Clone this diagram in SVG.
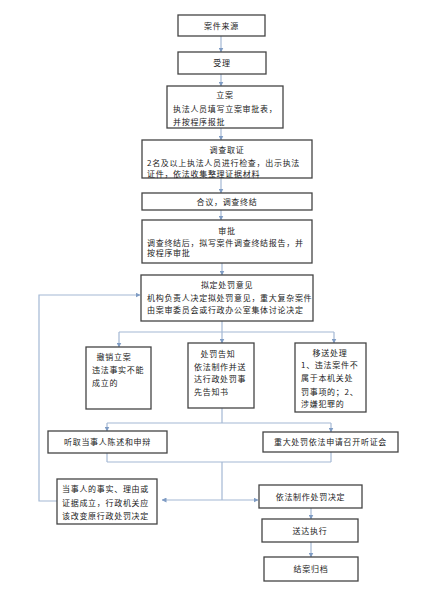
<svg xmlns="http://www.w3.org/2000/svg" width="447" height="600" viewBox="0 0 447 600">
<defs>
<marker id="ah" markerWidth="5" markerHeight="5" refX="4.5" refY="2.5" orient="auto" markerUnits="userSpaceOnUse">
<path d="M0,0 L5,2.5 L0,5 Z" fill="#7f9cc4"/>
</marker>
<style>
.box{fill:#fff;stroke:#444;stroke-width:1.3}
.ln{fill:none;stroke:#a3b8d4;stroke-width:1.2}
.ar{fill:none;stroke:#a3b8d4;stroke-width:1.2;marker-end:url(#ah)}
text{font-family:"Noto Sans CJK SC","Noto Sans",sans-serif;font-size:8px;fill:#222;letter-spacing:0.7px}
.c{text-anchor:middle}
</style>
</defs>
<rect width="447" height="600" fill="#fff"/>
<g id="connectors">
<line class="ar" x1="221" y1="36" x2="221" y2="52"/>
<line class="ar" x1="221" y1="74" x2="221" y2="86"/>
<line class="ar" x1="221" y1="128" x2="221" y2="140"/>
<line class="ar" x1="221" y1="178" x2="221" y2="193"/>
<line class="ar" x1="221" y1="210" x2="221" y2="220"/>
<line class="ar" x1="222" y1="263" x2="222" y2="275"/>
<line class="ln" x1="222" y1="321" x2="222" y2="332"/>
<line class="ln" x1="119" y1="332" x2="334" y2="332"/>
<line class="ar" x1="119" y1="332" x2="119" y2="347"/>
<line class="ar" x1="222" y1="332" x2="222" y2="343"/>
<line class="ar" x1="334" y1="332" x2="334" y2="343"/>
<line class="ln" x1="222" y1="408" x2="222" y2="423"/>
<line class="ln" x1="107" y1="423" x2="331" y2="423"/>
<line class="ar" x1="107" y1="423" x2="107" y2="431"/>
<line class="ar" x1="331" y1="423" x2="331" y2="432"/>
<line class="ln" x1="107" y1="453" x2="107" y2="462"/>
<line class="ln" x1="331" y1="452" x2="331" y2="462"/>
<line class="ln" x1="107" y1="462" x2="331" y2="462"/>
<line class="ln" x1="222" y1="462" x2="222" y2="500"/>
<line class="ar" x1="222" y1="500" x2="162" y2="500"/>
<line class="ar" x1="222" y1="500" x2="258" y2="500"/>
<polyline class="ar" points="57,501 39,501 39,295 140,295"/>
<line class="ar" x1="311" y1="508" x2="311" y2="519"/>
<line class="ar" x1="311" y1="542" x2="311" y2="557"/>
</g>
<g id="n1"><rect class="box" x="178" y="15" width="87" height="21"/><text class="c" x="221.5" y="28.5">案件来源</text></g>
<g id="n2"><rect class="box" x="178" y="52" width="88" height="22"/><text class="c" x="222" y="66">受理</text></g>
<g id="n3"><rect class="box" x="167" y="86" width="116" height="42"/>
<text class="c" x="225" y="98">立案</text>
<text x="173" y="112">执法人员填写立案审批表，</text>
<text x="173" y="125">并按程序报批</text></g>
<g id="n4"><rect class="box" x="142" y="140" width="170" height="38"/>
<text class="c" x="227" y="153">调查取证</text>
<text x="147" y="166">2名及以上执法人员进行检查，出示执法</text>
<text x="147" y="177">证件，依法收集整理证据材料</text></g>
<g id="n5"><rect class="box" x="142" y="193" width="170" height="17"/><text class="c" x="227" y="204.5">合议，调查终结</text></g>
<g id="n6"><rect class="box" x="142" y="220" width="170" height="43"/>
<text class="c" x="227" y="234">审批</text>
<text x="147" y="245.5">调查终结后，拟写案件调查终结报告，并</text>
<text x="147" y="256">按程序审批</text></g>
<g id="n7"><rect class="box" x="141" y="275" width="172" height="46"/>
<text class="c" x="227" y="288">拟定处罚意见</text>
<text x="147" y="300.5">机构负责人决定拟处罚意见，重大复杂案件</text>
<text x="147" y="313">由案审委员会或行政办公室集体讨论决定</text></g>
<g id="n8"><rect class="box" x="86" y="347" width="65" height="62"/>
<text class="c" x="114" y="360">撤销立案</text>
<text x="92" y="373">违法事实不能</text>
<text x="92" y="386">成立的</text></g>
<g id="n9"><rect class="box" x="188" y="343" width="66" height="65"/>
<text class="c" x="218" y="357">处罚告知</text>
<text x="194" y="369.5">依法制作并送</text>
<text x="194" y="382">达行政处罚事</text>
<text x="194" y="395">先告知书</text></g>
<g id="n10"><rect class="box" x="295" y="343" width="71" height="69"/>
<text class="c" x="330" y="356">移送处理</text>
<text x="301" y="368">1、违法案件不</text>
<text x="301" y="381">属于本机关处</text>
<text x="301" y="395">罚事项的；2、</text>
<text x="301" y="407">涉嫌犯罪的</text></g>
<g id="n11"><rect class="box" x="48" y="431" width="119" height="22"/><text class="c" x="107.5" y="445">听取当事人陈述和申辩</text></g>
<g id="n12"><rect class="box" x="263" y="432" width="135" height="20"/><text class="c" x="330.5" y="445">重大处罚依法申请召开听证会</text></g>
<g id="n13"><rect class="box" x="57" y="479" width="100" height="45"/>
<text x="62" y="492">当事人的事实、理由或</text>
<text x="62" y="506">证据成立，行政机关应</text>
<text x="62" y="519">该改变原行政处罚决定</text></g>
<g id="n14"><rect class="box" x="259" y="485" width="103" height="23"/><text class="c" x="310.5" y="499.5">依法制作处罚决定</text></g>
<g id="n15"><rect class="box" x="262" y="519" width="96" height="23"/><text class="c" x="310" y="533.5">送达执行</text></g>
<g id="n16"><rect class="box" x="264" y="557" width="94" height="24"/><text class="c" x="311" y="572">结案归档</text></g>
</svg>
